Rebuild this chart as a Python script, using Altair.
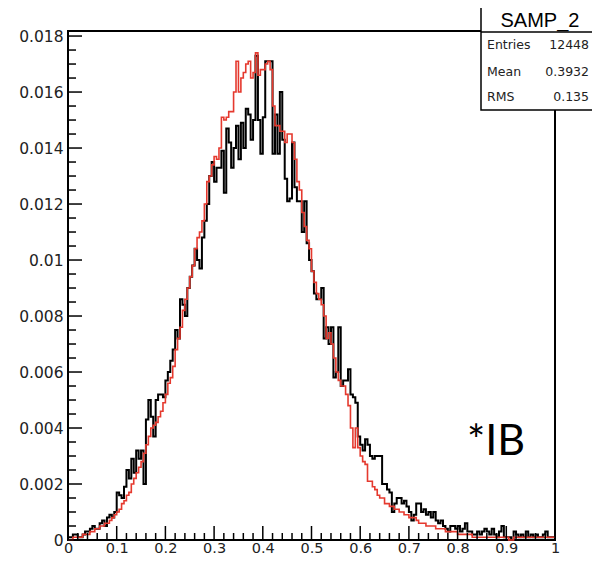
import altair as alt
import pandas as pd

# ---- data (bin contents in units of 1e-4, 200 bins of width 0.005 on [0,1]) ----
bin_width = 0.005
value_unit = 1e-4

black_vals = [
    1, 1, 2, 2, 1, 1, 2, 3, 3, 4,
    5, 4, 4, 6, 7, 5, 8, 9, 8, 10,
    17, 16, 15, 19, 25, 22, 29, 24, 32, 29,
    32, 20, 43, 50, 44, 37, 50, 52, 52, 51,
    57, 60, 64, 68, 75, 72, 86, 84, 80, 90,
    94, 98, 104, 100, 97, 108, 114, 120, 130, 135,
    128, 133, 133, 139, 124, 147, 142, 133, 140, 148,
    136, 149, 140, 154, 152, 143, 150, 173, 150, 138,
    151, 171, 171, 171, 138, 152, 138, 160, 143, 129,
    121, 122, 142, 126, 121, 121, 110, 121, 106, 100,
    96, 88, 86, 86, 90, 72, 76, 70, 76, 58,
    60, 76, 55, 57, 57, 61, 52, 51, 49, 37,
    34, 32, 36, 34, 30, 29, 30, 30, 30, 20,
    20, 18, 17, 10, 13, 15, 15, 13, 14, 12,
    10, 7, 9, 13, 13, 10, 11, 9, 10, 8,
    10, 7, 6, 7, 5, 4, 3, 5, 5, 4,
    5, 3, 4, 6, 3, 3, 2, 2, 3, 2,
    3, 4, 3, 2, 4, 2, 1, 3, 5, 1,
    1, 1, 0, 3, 2, 1, 2, 1, 3, 1,
    2, 1, 2, 1, 1, 2, 3, 1, 1, 1,
]

red_vals = [
    0, 0, 1, 1, 1, 1, 2, 2, 2, 3,
    3, 4, 4, 5, 5, 6, 6, 7, 8, 9,
    10, 11, 13, 14, 16, 17, 20, 22, 24, 26,
    28, 31, 34, 37, 40, 41, 42, 44, 46, 49,
    52, 56, 58, 62, 68, 72, 76, 82, 86, 90,
    94, 98, 104, 108, 110, 114, 120, 128, 130, 134,
    137, 136, 140, 151, 150, 151, 153, 153, 160, 171,
    160, 165, 167, 170, 171, 165, 167, 174, 166, 168,
    168, 170, 171, 168, 155, 148, 148, 146, 146, 142,
    145, 145, 142, 136, 128, 125, 117, 112, 107, 104,
    96, 92, 88, 86, 84, 80, 72, 74, 70, 65,
    60, 57, 55, 55, 52, 48, 40, 33, 40, 33,
    30, 28, 27, 21, 21, 19, 18, 16, 15, 15,
    13, 13, 12, 12, 11, 11, 10, 10, 9, 9,
    8, 8, 8, 7, 6, 6, 6, 5, 5, 5,
    5, 4, 4, 4, 4, 3, 3, 3, 3, 3,
    2, 2, 2, 2, 2, 2, 1, 1, 1, 1,
    1, 1, 1, 1, 1, 1, 1, 1, 1, 1,
    1, 0, 0, 1, 1, 1, 1, 1, 1, 1,
    1, 1, 1, 1, 1, 1, 1, 1, 1, 1,
]

y_major = [0, 0.002, 0.004, 0.006, 0.008, 0.01, 0.012, 0.014, 0.016, 0.018]
x_major = [0, 0.1, 0.2, 0.3, 0.4, 0.5, 0.6, 0.7, 0.8, 0.9, 1]
y_minor = [round(k * 0.0005, 4) for k in range(37) if k % 4 != 0]
x_minor = [round(k * 0.02, 2) for k in range(51) if k % 5 != 0]

stats_title = "SAMP_2"
stats_names = ["Entries", "Mean", "RMS"]
stats_values = ["12448", "0.3932", "0.135"]
annotation = "*IB"

# ---- build tables ----
def step_table(vals, name):
    xs = [round(i * bin_width, 4) for i in range(len(vals))] + [1.0]
    ys = [v * value_unit for v in vals] + [vals[-1] * value_unit]
    return pd.DataFrame({"x": xs, "y": ys, "series": name})

black_df = step_table(black_vals, "black")
red_df = step_table(red_vals, "red")

W, H = 487, 509
LABEL_FONT = "DejaVu Sans"

x_scale = alt.Scale(domain=[0, 1], nice=False, zero=False)
y_scale = alt.Scale(domain=[0, 0.01818], nice=False)

x_axis = alt.Axis(values=x_major, ticks=False, tickSize=0, domain=False, grid=False,
                  labelExpr="format(datum.value, '~g')", labelFont=LABEL_FONT,
                  labelFontSize=14.5, labelColor="#222222", labelPadding=1,
                  labelFlush=False, labelOverlap=False, title=None)
y_axis = alt.Axis(values=y_major, ticks=False, tickSize=0, domain=False, grid=False,
                  labelExpr="format(datum.value, '~g')", labelFont=LABEL_FONT,
                  labelFontSize=15.5, labelColor="#222222", labelPadding=5,
                  labelFlush=False, labelOverlap=False, title=None)


def X(field):
    return alt.X(f"{field}:Q", scale=x_scale, axis=x_axis, title=None)


def Y(field):
    return alt.Y(f"{field}:Q", scale=y_scale, axis=y_axis, title=None)


black_line = alt.Chart(black_df).mark_line(
    interpolate="step-after", color="#000000", strokeWidth=2
).encode(x=X("x"), y=Y("y"))

red_line = alt.Chart(red_df).mark_line(
    interpolate="step-after", color="#e5392e", strokeWidth=1.6
).encode(x=X("x"), y=Y("y"))

# inward tick marks (ROOT style)
ymaj = alt.Chart(pd.DataFrame({"t": y_major})).mark_tick(
    color="black", thickness=1.5, size=14, orient="horizontal", opacity=1
).encode(y=Y("t"), x=alt.value(7))
ymin = alt.Chart(pd.DataFrame({"t": y_minor})).mark_tick(
    color="black", thickness=1.5, size=8, orient="horizontal", opacity=1
).encode(y=Y("t"), x=alt.value(4))
xmaj = alt.Chart(pd.DataFrame({"t": x_major})).mark_tick(
    color="black", thickness=1.5, size=14, orient="vertical", opacity=1
).encode(x=X("t"), y=alt.value(H - 7))
xmin = alt.Chart(pd.DataFrame({"t": x_minor})).mark_tick(
    color="black", thickness=1.5, size=7, orient="vertical", opacity=1
).encode(x=X("t"), y=alt.value(H - 3.5))

# stats box
box = alt.Chart(pd.DataFrame({"k": [0]})).mark_rect(
    fill="white", stroke="black", strokeWidth=1.5
).encode(x=alt.value(413), x2=alt.value(560), y=alt.value(-24), y2=alt.value(79))
box_sep = alt.Chart(pd.DataFrame({"k": [0]})).mark_rule(color="black", strokeWidth=1.5).encode(
    x=alt.value(413), x2=alt.value(560), y=alt.value(1), y2=alt.value(1))
box_title = alt.Chart(pd.DataFrame({"s": [stats_title]})).mark_text(
    font="Liberation Sans", fontSize=20, align="center", baseline="middle", color="black"
).encode(x=alt.value(472), y=alt.value(-10), text="s:N")

stats_layers = []
row_y = [14, 41, 66]
for name, val, yy in zip(stats_names, stats_values, row_y):
    df = pd.DataFrame({"n": [name], "v": [val]})
    stats_layers.append(alt.Chart(df).mark_text(
        font="DejaVu Sans", fontSize=12.5, align="left", baseline="middle", color="#222222"
    ).encode(x=alt.value(419), y=alt.value(yy), text="n:N"))
    stats_layers.append(alt.Chart(df).mark_text(
        font="DejaVu Sans", fontSize=12.5, align="right", baseline="middle", color="#222222"
    ).encode(x=alt.value(521), y=alt.value(yy), text="v:N"))

ib = alt.Chart(pd.DataFrame({"s": [annotation]})).mark_text(
    font="Lato", fontSize=43, align="left", baseline="alphabetic", color="black"
).encode(x=alt.value(399), y=alt.value(424), text="s:N")

chart = alt.layer(
    black_line, red_line, ymaj, ymin, xmaj, xmin, box, box_sep, box_title, *stats_layers, ib
).properties(
    width=W, height=H,
    padding={"left": 60, "top": 23, "right": 37, "bottom": 14},
    autosize=alt.AutoSizeParams(type="none"),
).configure_view(
    stroke="black", strokeWidth=2
)

chart.save("out.html", embed_options={"renderer": "svg", "actions": False})
